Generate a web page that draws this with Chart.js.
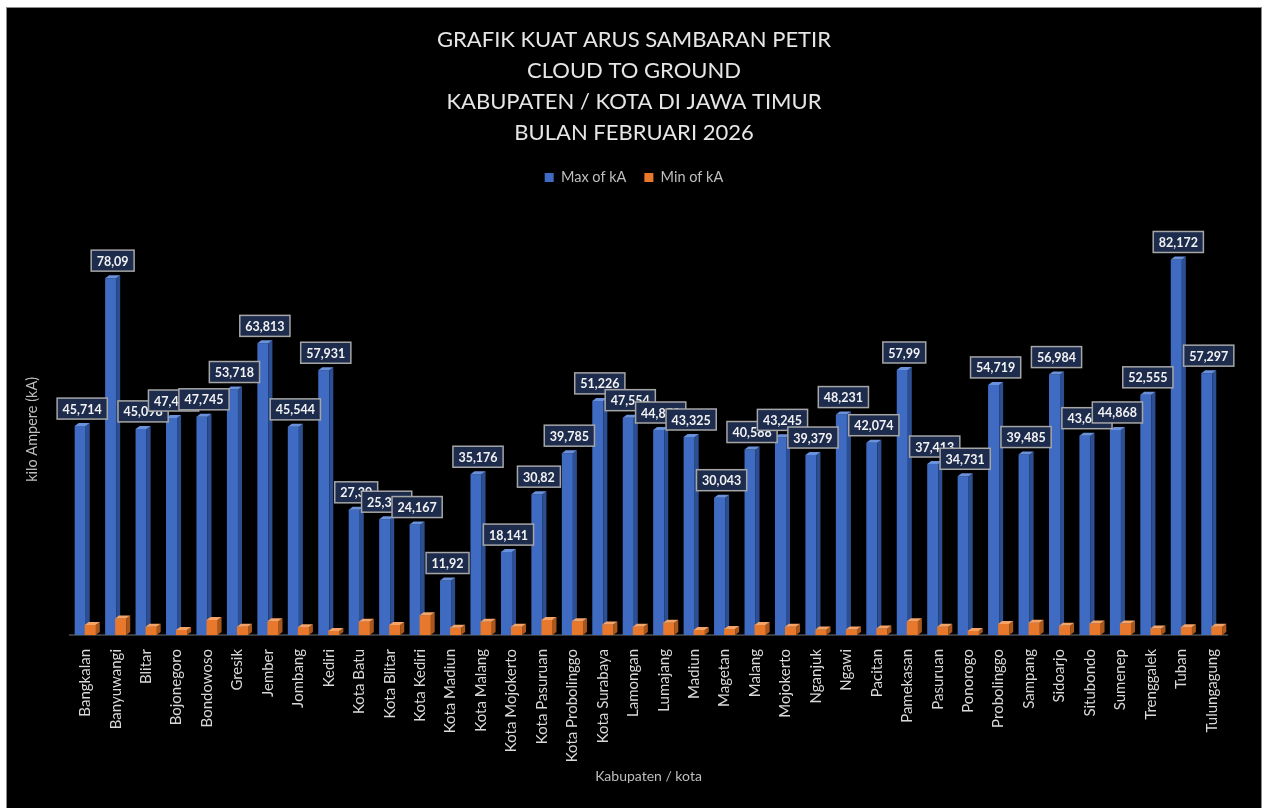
<!DOCTYPE html>
<html>
<head>
<meta charset="utf-8">
<script src="https://cdn.jsdelivr.net/npm/chart.js@4.4.1/dist/chart.umd.min.js"></script>
<style>
    html, body { margin: 0; padding: 0; background: #fff; width: 1264px; height: 808px; overflow: hidden; }
    #frame { position: absolute; left: 6px; top: 7px; width: 1254px; height: 801px; background: #000; border: 1px solid #8c8c8c; border-bottom: none; }
    canvas { display: block; }
</style>
</head>
<body>
<div id="frame"><canvas id="chart" width="1254" height="801"></canvas></div>
<script>
// Data (kA per kabupaten / kota, Februari 2026)
const regions = [
    "Bangkalan", "Banyuwangi", "Blitar", "Bojonegoro", "Bondowoso", "Gresik", "Jember", "Jombang",
    "Kediri", "Kota Batu", "Kota Blitar", "Kota Kediri", "Kota Madiun", "Kota Malang", "Kota Mojokerto",
    "Kota Pasuruan", "Kota Probolinggo", "Kota Surabaya", "Lamongan", "Lumajang", "Madiun", "Magetan",
    "Malang", "Mojokerto", "Nganjuk", "Ngawi", "Pacitan", "Pamekasan", "Pasuruan", "Ponorogo",
    "Probolinggo", "Sampang", "Sidoarjo", "Situbondo", "Sumenep", "Trenggalek", "Tuban", "Tulungagung"
];
const maxKA = [
    45.714, 78.09, 45.098, 47.481, 47.745, 53.718, 63.813, 45.544,
    57.931, 27.39, 25.341, 24.167, 11.92, 35.176, 18.141,
    30.82, 39.785, 51.226, 47.554, 44.858, 43.325, 30.043,
    40.588, 43.245, 39.379, 48.231, 42.074, 57.99, 37.413, 34.731,
    54.719, 39.485, 56.984, 43.613, 44.868, 52.555, 82.172, 57.297
];
const minKA = [
    2.2, 3.6, 1.8, 1.1, 3.3, 1.8, 3.0, 1.7,
    0.9, 2.9, 2.2, 4.3, 1.6, 2.9, 1.8,
    3.3, 3.0, 2.3, 1.8, 2.7, 1.1, 1.3,
    2.2, 1.8, 1.2, 1.2, 1.4, 3.0, 1.8, 0.9,
    2.4, 2.7, 2.0, 2.5, 2.5, 1.4, 1.7, 1.8
];
const titleLines = [
    "GRAFIK KUAT ARUS SAMBARAN PETIR",
    "CLOUD TO GROUND",
    "KABUPATEN / KOTA DI JAWA TIMUR",
    "BULAN FEBRUARI 2026"
];

const FONT = "Lato, 'Open Sans', sans-serif";
const DX = 4, DY = 3; // fake 3D depth

function darkFace(ctx, el, sideColor, topColor) {
    const { x, y, base, width } = el.getProps(["x", "y", "base", "width"], true);
    const l = x - width / 2, r = x + width / 2;
    ctx.fillStyle = sideColor;
    ctx.beginPath();
    ctx.moveTo(r, y); ctx.lineTo(r + DX, y - DY); ctx.lineTo(r + DX, base - DY); ctx.lineTo(r, base);
    ctx.closePath(); ctx.fill();
    ctx.fillStyle = topColor;
    ctx.beginPath();
    ctx.moveTo(l, y); ctx.lineTo(l + DX, y - DY); ctx.lineTo(r + DX, y - DY); ctx.lineTo(r, y);
    ctx.closePath(); ctx.fill();
}

// side/top faces, orange series in front of blue
const columns3d = {
    id: "columns3d",
    afterDatasetsDraw(chart) {
        const ctx = chart.ctx;
        ctx.save();
        chart.getDatasetMeta(0).data.forEach(el => darkFace(ctx, el, "#2c4f93", "#6a92dc"));
        chart.getDatasetMeta(1).data.forEach(el => {
            el.draw(ctx);
            darkFace(ctx, el, "#a9571d", "#f5a366");
        });
        ctx.restore();
    }
};

// boxed value labels above the max bars
const valueBoxes = {
    id: "valueBoxes",
    afterDraw(chart) {
        const ctx = chart.ctx;
        ctx.save();
        ctx.font = "bold 12.5px " + FONT;
        ctx.textAlign = "center";
        ctx.textBaseline = "middle";
        chart.getDatasetMeta(0).data.forEach((el, i) => {
            const txt = String(maxKA[i]).replace(".", ",");
            const w = ctx.measureText(txt).width + 11;
            const h = 21;
            const cx = el.x + DX / 2;
            const bottom = el.y - DY - 4;
            ctx.fillStyle = "#1d2b4c";
            ctx.fillRect(cx - w / 2, bottom - h, w, h);
            ctx.strokeStyle = "#a6a6a6";
            ctx.lineWidth = 1.5;
            ctx.strokeRect(cx - w / 2, bottom - h, w, h);
            ctx.fillStyle = "#f2f2f2";
            ctx.fillText(txt, cx, bottom - h / 2 + 1);
        });
        ctx.restore();
    }
};

const legendGap = {
    id: "legendGap",
    beforeInit(chart) {
        const fit = chart.legend.fit;
        chart.legend.fit = function () {
            fit.call(this);
            this.height += 29;
        };
    }
};

new Chart(document.getElementById("chart"), {
    type: "bar",
    data: {
        labels: regions,
        datasets: [
            { label: "Max of kA", data: maxKA, backgroundColor: "#3f6cc2" },
            { label: "Min of kA", data: minKA, backgroundColor: "#e8792c" }
        ]
    },
    options: {
        responsive: false,
        animation: false,
        layout: { padding: { left: 34, right: 34, top: 0, bottom: 19 } },
        datasets: {
            bar: { categoryPercentage: 0.66, barPercentage: 1.1, borderWidth: 0 }
        },
        plugins: {
            title: {
                display: true,
                text: titleLines,
                color: "#e6e6e6",
                font: { family: FONT, size: 22, weight: "normal", lineHeight: 1.4 },
                padding: { top: 17, bottom: 4 }
            },
            legend: {
                position: "top",
                labels: {
                    color: "#bfbfbf",
                    boxWidth: 9,
                    boxHeight: 9,
                    padding: 18,
                    font: { family: FONT, size: 14.5 }
                }
            },
            tooltip: { enabled: false }
        },
        scales: {
            x: {
                grid: { display: false },
                border: { color: "#3a3a3a", width: 2 },
                ticks: {
                    color: "#d9d9d9",
                    autoSkip: false,
                    minRotation: 90,
                    maxRotation: 90,
                    padding: 6,
                    font: { family: FONT, size: 15 }
                },
                title: {
                    display: true,
                    text: "Kabupaten / kota",
                    color: "#bfbfbf",
                    font: { family: FONT, size: 14 },
                    padding: { top: 4, bottom: 5 }
                },
                afterFit(scale) { scale.height = 155; }
            },
            y: {
                min: 0,
                max: 90,
                grid: { display: false },
                border: { display: false },
                ticks: { display: false },
                title: {
                    display: true,
                    text: "kilo Ampere (kA)",
                    color: "#bfbfbf",
                    font: { family: FONT, size: 14.5 },
                    padding: { top: -17, bottom: 0 }
                },
                afterFit(scale) { scale.width = 29; }
            }
        }
    },
    plugins: [columns3d, valueBoxes, legendGap]
});
</script>
</body>
</html>
